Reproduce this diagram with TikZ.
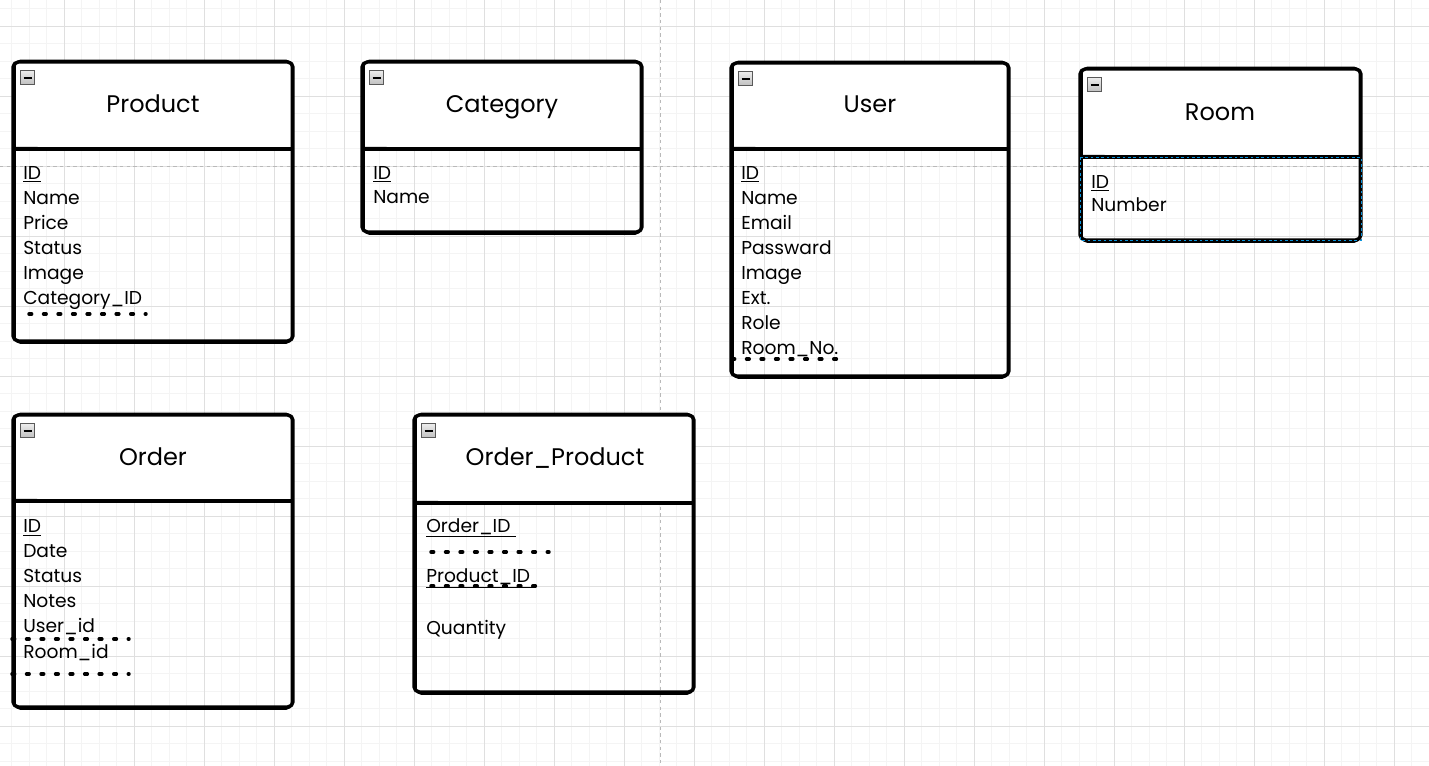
\documentclass[tikz,border=0pt]{standalone}
\usepackage{fontspec}
\setmainfont{Poppins}
\usetikzlibrary{positioning}

\begin{document}
\begin{tikzpicture}[x=0.75pt,y=-0.75pt,
		sketch/.style = {line width=2.6pt, rounded corners=4pt, line join=round},
		title/.style = {anchor=base, font=\fontsize{18}{21}\selectfont},
		attr/.style = {anchor=base west, inner sep=0pt, font=\fontsize{14}{16}\selectfont},
		fkline/.style = {line width=2.6pt, line cap=round, dash pattern=on 2pt off 8.9pt},
		minor/.style = {gray!9, line width=0.5pt},
		major/.style = {gray!25, line width=0.6pt},
		pagebreak/.style = {gray!55, line width=0.6pt, dash pattern=on 2.5pt off 2.5pt}]
		
		\fill[white] (0,0) rectangle (1429,766);
		\useasboundingbox (0,0) rectangle (1429,766);
		
		% grid
		\foreach \gx in {11.8,29.3,...,1429} \draw[minor] (\gx,0) -- (\gx,766);
		\foreach \gy in {8.5,26,...,766} \draw[minor] (0,\gy) -- (1429,\gy);
		\foreach \gx in {64.3,134.3,...,1429} \draw[major] (\gx,0) -- (\gx,766);
		\foreach \gy in {26,96,...,766} \draw[major] (0,\gy) -- (1429,\gy);
		\draw[pagebreak] (660,0) -- (660,766);
		\draw[pagebreak] (0,166) -- (1429,166);
		
		% tables
		\foreach \l/\t/\r/\d/\b in {13/62/293/149/341, 362/62/642/149/232, 731/63/1009/149/376,
				1080/69/1361/157/240, 13/415/293/501/707, 414/415/694/503/692} {
			\fill[white, rounded corners=4pt] (\l,\t) rectangle (\r,\d);
			\draw[sketch] (\l,\t) rectangle (\r,\b);
			\draw[sketch, line width=1.3pt] (\l+2,\t-1.5) rectangle (\r-1.5,\b+2);
			\draw[sketch] (\l,\d) -- (\r,\d);
			\draw[sketch, line width=1pt] (\l+1,\d-1.5) -- (\r-2,\d+0.5);
			\shade[top color=gray!15, bottom color=gray!50, draw=gray!70!black, line width=0.4pt]
				(\l+7.7,\t+8.7) rectangle ++(14,14);
			\draw[line width=1.5pt] (\l+10.7,\t+15.7) -- ++(8,0);
		}
		\draw[cyan!80!blue, line width=0.5pt, dash pattern=on 2pt off 2pt] (1080,157) rectangle (1361,240);
		
		\node[title] (product) at (153,113) {Product};
		\node[title] (category) at (502,113) {Category};
		\node[title] (user) at (870,113) {User};
		\node[title] (room) at (1220,121) {Room};
		\node[title] (order) at (153,466) {Order};
		\node[title] (orderproduct) at (555,466) {Order\_Product};
		
		\node[attr] (product-0) at (23,179.5) {\underline{ID}};
		\foreach \a [count=\i] in {Name,Price,Status,Image,Category\_ID}
			\node[attr] (product-\i) at (23,{179.5+25*\i}) {\a};
		
		\node[attr] (category-0) at (373,179.5) {\underline{ID}};
		\node[attr] (category-1) at (373,204) {Name};
		
		\node[attr] (user-0) at (741,179.5) {\underline{ID}};
		\foreach \a [count=\i] in {Name,Email,Passward,Image,Ext.,Role,Room\_No.}
			\node[attr] (user-\i) at (741,{179.5+25*\i}) {\a};
		
		\node[attr] (room-0) at (1091,188.5) {\underline{ID}};
		\node[attr] (room-1) at (1091,211.5) {Number};
		
		\node[attr] (order-0) at (23,533) {\underline{ID}};
		\foreach \a [count=\i] in {Date,Status,Notes,User\_id,Room\_id}
			\node[attr] (order-\i) at (23,{533+25*\i}) {\a};
		
		\node[attr] (orderproduct-0) at (426,532.5) {\underline{Order\_ID~}};
		\node[attr] (orderproduct-1) at (426,583) {\underline{Product\_ID~}};
		\node[attr] (orderproduct-2) at (426,634) {Quantity};
		
		% foreign keys
		\draw[fkline] (29,314) -- (146,314);
		\draw[fkline] (732,359) -- (847,359);
		\draw[fkline] (12,639) -- (129,639);
		\draw[fkline] (12,674) -- (129,674);
		\draw[fkline] (431,552) -- (549,552);
		\draw[fkline] (431,586) -- (546,586);
		\end{tikzpicture}
\end{document}
